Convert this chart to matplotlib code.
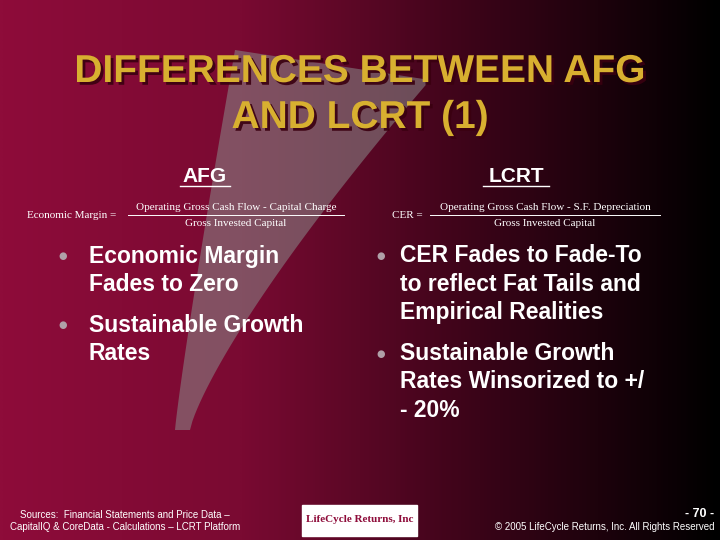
import numpy as np
import matplotlib
matplotlib.use("Agg")
import matplotlib.pyplot as plt
import matplotlib.patheffects as pe
from matplotlib.colors import LinearSegmentedColormap

title_lines = ["DIFFERENCES BETWEEN AFG", "AND LCRT (1)"]
col_heads = ["AFG", "LCRT"]
left_bullets = [["Economic Margin", "Fades to Zero"], ["Sustainable Growth", "Rates"]]
right_bullets = [["CER Fades to Fade-To", "to reflect Fat Tails and", "Empirical Realities"],
                 ["Sustainable Growth", "Rates Winsorized to +/", "- 20%"]]
left_formula = ("Economic Margin =", "Operating Gross Cash Flow - Capital Charge", "Gross Invested Capital")
right_formula = ("CER =", "Operating Gross Cash Flow - S.F. Depreciation", "Gross Invested Capital")
source_text = ["Sources:  Financial Statements and Price Data \u2013", "CapitalIQ & CoreData - Calculations \u2013 LCRT Platform"]
page_text = "- 70 -"
copyright_text = "\u00a9 2005 LifeCycle Returns, Inc. All Rights Reserved"

fig = plt.figure(figsize=(7.2, 5.4), dpi=100)
ax = fig.add_axes([0, 0, 1, 1])
ax.set_xlim(0, 720); ax.set_ylim(540, 0); ax.axis("off")

cmap = LinearSegmentedColormap.from_list("bg", ["#8e0c3a", "#7a0a32", "#3a0418", "#000000"])
grad = np.tile(np.linspace(0, 1, 400), (300, 1))
ax.imshow(grad, cmap=cmap, extent=[0, 720, 540, 0], aspect="auto", zorder=0)

# grey swoosh
t = np.linspace(0, 1, 100)
x1 = 175 + 60 * t; y1 = 430 - 380 * t**0.9
x2 = 190 + 240 * t; y2 = 430 - 350 * t**0.8
ax.fill(np.r_[x1, x2[::-1]], np.r_[y1, y2[::-1]], color="#8a8a8a", alpha=0.55, zorder=1, lw=0)

ft = dict(family="Liberation Sans", weight="bold")
shadow = [pe.withSimplePatchShadow(offset=(2, -2), shadow_rgbFace="#3a0010", alpha=0.9)]
for y, s in zip([72, 118], title_lines):
    ax.text(360, y, s, ha="center", va="center", fontsize=28, color="#d8b030",
            path_effects=shadow, **ft)

for x, h, w in zip([205, 516], col_heads, [25, 33]):
    ax.text(x, 176, h, ha="center", va="center", fontsize=15, color="white", **ft)
    ax.plot([x - w, x + w], [186, 186], color="white", lw=1)

def formula(xl, xc, lab, num, den, w):
    ax.text(xl, 215, lab, ha="left", va="center", fontsize=8, color="white", family="Liberation Serif")
    ax.text(xc, 208, num, ha="center", va="center", fontsize=8, color="white", family="Liberation Serif")
    ax.plot([xc - w, xc + w], [215, 215], color="white", lw=0.7)
    ax.text(xc, 224, den, ha="center", va="center", fontsize=8, color="white", family="Liberation Serif")

formula(27, 236, *left_formula, 108)
formula(392, 545, *right_formula, 115)

def bullets(xb, xt, items, y0):
    y = y0
    for item in items:
        ax.text(xb, y, "\u25cf", ha="center", va="center", fontsize=7, color="#b0a0a8")
        for line in item:
            ax.text(xt, y, line, ha="left", va="center", fontsize=16.5, color="white", **ft)
            y += 28.5
        y += 12

bullets(63, 89, left_bullets, 256)
bullets(381, 400, right_bullets, 256)

ax.text(125, 515, source_text[0], ha="center", va="center", fontsize=7, color="white", family="Liberation Sans")
ax.text(125, 527, source_text[1], ha="center", va="center", fontsize=7, color="white", family="Liberation Sans")

ax.add_patch(plt.Rectangle((302, 505), 115, 31, color="white", zorder=2))
ax.text(359.5, 520, "LifeCycle Returns, Inc", ha="center", va="center", fontsize=8, color="#8e0c3a",
        family="Liberation Serif", weight="bold", zorder=3)

ax.text(700, 514, page_text, ha="center", va="center", fontsize=9, color="white", **ft)
ax.text(605, 527, copyright_text, ha="center", va="center", fontsize=7, color="white", family="Liberation Sans")

fig.savefig("out.png", dpi=100)
